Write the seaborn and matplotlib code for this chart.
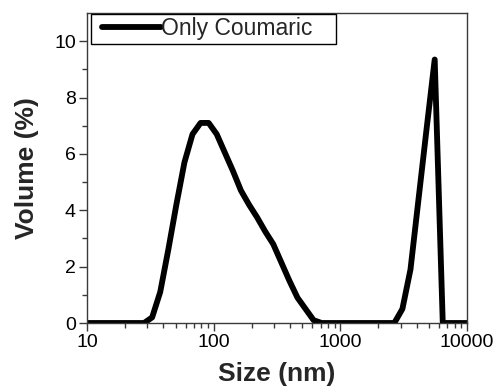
import matplotlib
matplotlib.use("Agg")
import matplotlib.pyplot as plt
import seaborn as sns
import pandas as pd
import numpy as np
from matplotlib.ticker import LogLocator, NullFormatter, FixedLocator
from matplotlib.patches import Rectangle

sizes_nm = [10.10, 11.70, 13.54, 15.69, 18.17, 21.04, 24.36, 28.21, 32.67, 37.84,
            43.82, 50.75, 58.77, 68.06, 78.82, 91.28, 105.7, 122.4, 141.8, 164.2,
            190.1, 220.2, 255.0, 295.3, 342.0, 396.1, 458.7, 531.2, 615.1, 712.4,
            825.0, 955.4, 1106, 1281, 1484, 1718, 1990, 2305, 2669, 3091,
            3580, 4145, 4801, 5560, 6439, 7456, 8635, 10000]
volume_pct = [0, 0, 0, 0, 0, 0, 0, 0, 0.2, 1.1,
              2.6, 4.2, 5.7, 6.7, 7.1, 7.1, 6.7, 6.05, 5.4, 4.7,
              4.2, 3.75, 3.25, 2.8, 2.15, 1.5, 0.9, 0.5, 0.1, 0,
              0, 0, 0, 0, 0, 0, 0, 0, 0, 0.5,
              1.9, 4.4, 6.9, 9.35, 0, 0, 0, 0]
series_name = "Only Coumaric"
x_label = "Size (nm)"
y_label = "Volume (%)"
x_ticks = [10, 100, 1000, 10000]
x_ticklabels = ["10", "100", "1000", "10000"]
y_ticks = [0, 2, 4, 6, 8, 10]

df = pd.DataFrame({"size": sizes_nm, "volume": volume_pct, "sample": series_name})

sns.set_style("ticks")
plt.rcParams["font.family"] = ["Liberation Sans", "DejaVu Sans"]

fig = plt.figure(figsize=(4.95, 3.92), dpi=100)
ax = fig.add_axes([0.1758, 0.176, 0.7676, 0.7908])

sns.lineplot(data=df, x="size", y="volume", hue="sample", palette=["black"],
             linewidth=4.2, ax=ax, legend=True, sort=False)
for ln in ax.get_lines():
    ln.set_solid_joinstyle("round")
    ln.set_solid_capstyle("butt")

ax.set_xscale("log")
ax.set_xlim(10, 10000)
ax.set_ylim(0, 11)
ax.yaxis.set_major_locator(FixedLocator(y_ticks))
ax.yaxis.set_minor_locator(FixedLocator([1, 3, 5, 7, 9]))
ax.xaxis.set_major_locator(FixedLocator(x_ticks))
ax.xaxis.set_minor_locator(LogLocator(base=10, subs=np.arange(2, 10)))
ax.xaxis.set_minor_formatter(NullFormatter())
ax.set_xticklabels(x_ticklabels)

spine_color = "#3a3a3a"
for s in ax.spines.values():
    s.set_color(spine_color)
    s.set_linewidth(1.0)
    s.set_visible(True)
ax.tick_params(axis="both", which="major", direction="out", length=6, width=1,
               color=spine_color, labelsize=14, labelcolor="black", pad=2)
ax.tick_params(axis="both", which="minor", direction="out", length=3.5, width=1,
               color=spine_color)
ax.tick_params(top=False, right=False, which="both")

ax.set_xlabel(x_label, fontsize=19, fontweight="bold", labelpad=8)
ax.set_ylabel(y_label, fontsize=19, fontweight="bold", labelpad=11)

handles, labels = ax.get_legend_handles_labels()
for h in handles:
    h.set_solid_capstyle("round")
    h.set_linewidth(4.2)
leg = ax.legend(handles, labels, loc="center left", bbox_to_anchor=(0.040, 0.9485),
                borderaxespad=0, frameon=False, fontsize=16.5,
                handlelength=2.55, handletextpad=0.0, borderpad=0.0)
for t in leg.get_texts():
    t.set_text(series_name)

# legend frame box
ax.add_patch(Rectangle((0.0105, 0.9), 0.6445, 0.0968, transform=ax.transAxes,
                       fill=False, edgecolor="black", linewidth=1.0, zorder=5,
                       clip_on=False))

fig.savefig("out.png", dpi=100)
